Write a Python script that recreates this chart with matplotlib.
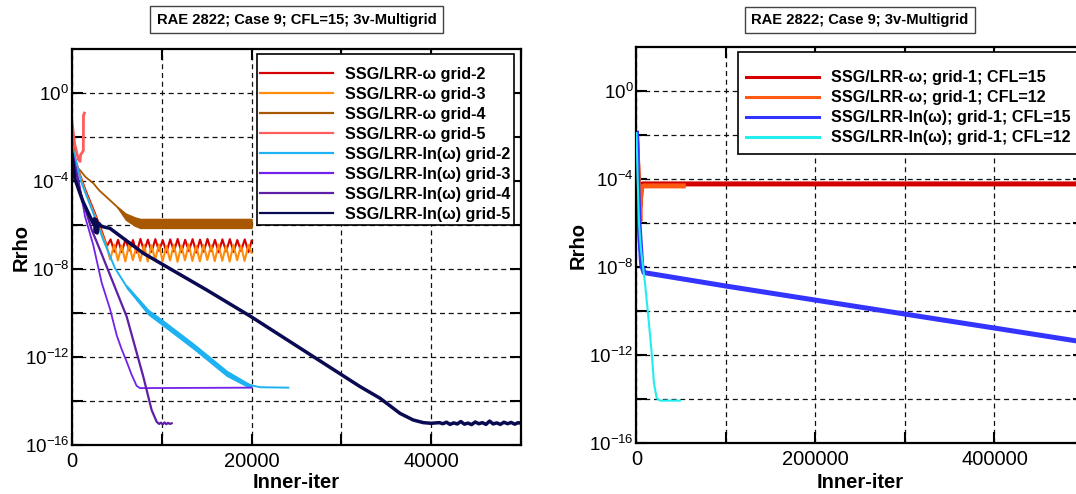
import numpy as np
import matplotlib.pyplot as plt
from matplotlib.lines import Line2D
from matplotlib.ticker import FixedLocator, NullFormatter, FuncFormatter

plt.rcParams['font.family'] = ['Liberation Sans', 'DejaVu Sans']
plt.rcParams['mathtext.default'] = 'regular'

# ---- left panel: grid study, CFL=15 (iteration, log10 Rrho) ----
w2_it = [0, 300, 800, 1500, 2500, 3300, 3900,
         4300, 4710, 5130, 5540, 5960, 6370, 6790, 7200, 7620, 8030,
         8450, 8860, 9280, 9690, 10110, 10520, 10940, 11350, 11770, 12180,
         12600, 13010, 13430, 13840, 14260, 14670, 15090, 15500, 15920, 16330,
         16750, 17160, 17580, 17990, 18410, 18820, 19240, 19650, 20000]
w2_lg = [-1.6, -2.9, -3.6, -4.4, -5.4, -6.25, -6.95,
         -6.64, -7.20, -6.66, -7.22, -6.63, -7.15, -6.67, -7.24, -6.62, -7.18,
         -6.65, -7.21, -6.63, -7.16, -6.68, -7.23, -6.64, -7.19, -6.62, -7.22,
         -6.66, -7.17, -6.63, -7.24, -6.65, -7.20, -6.62, -7.18, -6.66, -7.23,
         -6.64, -7.19, -6.63, -7.21, -6.67, -7.17, -6.64, -7.22, -6.70]

w3_it = [0, 500, 1500, 2500, 3300, 3900, 4250,
         4700, 5110, 5530, 5940, 6360, 6770, 7190, 7600, 8020, 8430,
         8850, 9260, 9680, 10090, 10510, 10920, 11340, 11750, 12170, 12580,
         13000, 13410, 13830, 14240, 14660, 15070, 15490, 15900, 16320, 16730,
         17150, 17560, 17980, 18390, 18810, 19220, 19640, 20000]
w3_lg = [-2.2, -3.3, -4.5, -5.5, -6.35, -7.0, -7.55,
         -6.88, -7.60, -6.92, -7.64, -6.86, -7.58, -6.95, -7.62, -6.89, -7.65,
         -6.91, -7.57, -6.87, -7.63, -6.94, -7.60, -6.88, -7.66, -6.92, -7.59,
         -6.86, -7.62, -6.93, -7.64, -6.89, -7.58, -6.91, -7.63, -6.87, -7.61,
         -6.94, -7.65, -6.88, -7.59, -6.92, -7.62, -6.90, -7.25]

w4_it = [0, 400, 900, 1500, 2400, 3000, 4200, 5000, 5600]
w4_lg = [-2.6, -3.3, -3.5, -3.8, -4.1, -4.4, -4.85, -5.15, -5.38]
w4_band_it = [5000, 6000, 7000, 7600, 20000]
w4_band_hi = [-5.15, -5.47, -5.64, -5.71, -5.71]
w4_band_lo = [-5.15, -5.75, -6.02, -6.12, -6.12]

w5_it = [0, 300, 700, 900, 950, 1200, 1260, 1280, 1330, 1380]
w5_lg = [-1.3, -2.3, -3.0, -3.1, -2.8, -2.65, -2.6, -1.0, -0.95, -0.9]

ln2_it = [0, 150, 1000, 2370, 3490, 4790, 6090, 8500, 10000, 13600,
          17230, 19450, 20940, 24090]
ln2_lg = [-2.4, -2.6, -4.0, -5.45, -6.67, -7.95, -8.79, -9.95, -10.4, -11.52,
          -12.73, -13.23, -13.36, -13.38]
ln2_band_it = [6090, 8500, 10000, 13600, 17230, 19450, 20000]
ln2_band_hi = [-8.74, -9.85, -10.29, -11.41, -12.62, -13.15, -13.27]
ln2_band_lo = [-8.84, -10.05, -10.51, -11.63, -12.84, -13.31, -13.33]

ln3_it = [0, 700, 1450, 2370, 3300, 4230, 4980, 5500, 6090, 6650, 7200, 7570, 20010]
ln3_lg = [-2.6, -3.9, -5.6, -6.9, -8.6, -9.8, -11.0, -11.6, -12.2, -12.8, -13.3, -13.4, -13.38]

ln4_it = [0, 1000, 2190, 3120, 6090, 7940, 8870, 9430, 9700, 9900, 10100,
          10300, 10500, 10700, 10900, 11100]
ln4_lg = [-2.7, -4.6, -6.2, -7.12, -10.15, -12.88, -14.4, -14.93, -15.03, -14.97,
          -15.05, -14.96, -15.04, -14.98, -15.03, -15.0]

ln5_it = [0, 330, 1200, 2000, 2370, 2500, 2600, 2700, 2800, 2950, 3300, 4230,
          7940, 15000, 19930, 32070, 34300, 36530, 38000, 39120, 40000,
          40900, 41300, 41700, 42100, 42500, 42900, 43300, 43700, 44100, 44500,
          44900, 45300, 45700, 46100, 46500, 46900, 47300, 47700, 48100, 48500,
          48900, 49300, 49700, 50000]
ln5_lg = [-2.8, -3.9, -4.9, -5.6, -5.92, -5.7, -6.3, -5.75, -6.35, -5.9, -6.05, -6.14,
          -7.27, -8.94, -10.15, -13.33, -13.86, -14.55, -14.85, -14.97, -15.0,
          -14.97, -15.02, -14.95, -15.05, -14.98, -15.03, -14.92, -15.04, -14.99, -15.06,
          -14.94, -15.02, -14.97, -15.05, -14.90, -15.03, -14.98, -15.05, -14.95, -15.02,
          -14.96, -15.04, -14.97, -15.0]

left_labels = ['SSG/LRR-ω grid-2', 'SSG/LRR-ω grid-3', 'SSG/LRR-ω grid-4',
               'SSG/LRR-ω grid-5', 'SSG/LRR-ln(ω) grid-2', 'SSG/LRR-ln(ω) grid-3',
               'SSG/LRR-ln(ω) grid-4', 'SSG/LRR-ln(ω) grid-5']
left_colors = ['#d60000', '#ff8c0a', '#a85800', '#ff5c5c',
               '#1eb2f2', '#7222ea', '#5e1ea6', '#0a0a52']

# ---- right panel: grid-1, CFL 15 vs 12 ----
r15w_it = [0, 1500, 3000, 4000, 5000, 6000, 7000, 500000]
r15w_lg = [-2.0, -3.5, -4.8, -5.2, -4.6, -4.25, -4.21, -4.21]
r12w_it = [0, 1500, 3000, 3800, 4500, 5500, 8000, 52300]
r12w_lg = [-2.0, -3.5, -5.0, -5.9, -4.8, -4.35, -4.3, -4.3]
r15l_it = [0, 1300, 2800, 5800, 8380, 99600, 199700, 401300, 500000]
r15l_lg = [-1.9, -4.03, -6.0, -7.9, -8.24, -8.85, -9.49, -10.77, -11.4]
r12l_it = [0, 1300, 2800, 5000, 9500, 13200, 17000, 19500, 22600, 26300, 48600]
r12l_lg = [-1.9, -4.03, -6.0, -7.2, -8.73, -10.24, -11.9, -13.27, -13.95, -14.06, -14.06]

right_labels = ['SSG/LRR-ω; grid-1; CFL=15', 'SSG/LRR-ω; grid-1; CFL=12',
                'SSG/LRR-ln(ω); grid-1; CFL=15', 'SSG/LRR-ln(ω); grid-1; CFL=12']
right_colors = ['#d40000', '#ff5a14', '#3434ff', '#22eeee']

y_major = [1e0, 1e-4, 1e-8, 1e-12, 1e-16]
y_minor = [1e-2, 1e-6, 1e-10, 1e-14]


def p(v):
    return 10.0 ** np.asarray(v)


def style_axes(ax, xmax, x_major, x_minor):
    ax.set_yscale('log')
    ax.set_ylim(1e-16, 1e2)
    ax.set_xlim(0, xmax)
    ax.yaxis.set_major_locator(FixedLocator(y_major))
    ax.yaxis.set_minor_locator(FixedLocator(y_minor))
    ax.yaxis.set_major_formatter(FuncFormatter(
        lambda v, pos: '$10^{%d}$' % int(round(np.log10(v)))))
    ax.yaxis.set_minor_formatter(NullFormatter())
    ax.xaxis.set_major_locator(FixedLocator(x_major))
    ax.xaxis.set_minor_locator(FixedLocator(x_minor))
    ax.xaxis.set_major_formatter(FuncFormatter(lambda v, pos: '%d' % v))
    ax.tick_params(which='both', direction='in', top=True, right=True,
                   length=8, width=1.5, color='black')
    ax.tick_params(axis='y', which='major', labelsize=13.5, pad=2)
    ax.tick_params(axis='x', which='major', labelsize=14.5, pad=5)
    ax.grid(True, which='both', color='#111111', lw=0.9,
            linestyle=(0, (4, 3)))
    for s in ax.spines.values():
        s.set_linewidth(1.6)
    ax.set_axisbelow(True)
    ax.set_xlabel('Inner-iter', fontsize=14.5, fontweight='bold')
    ax.set_ylabel('Rrho', fontsize=14.5, fontweight='bold')


def add_key(ax, handles, labels, anchor, pad, title_size):
    leg = ax.legend(handles, labels, loc='upper left', bbox_to_anchor=anchor,
                    mode='expand', borderaxespad=0,
                    prop={'weight': 'bold', 'size': 11.6},
                    handlelength=4.5, handletextpad=0.75, labelspacing=0.31,
                    borderpad=pad, title=' ', title_fontsize=title_size,
                    frameon=True, fancybox=False, framealpha=1,
                    edgecolor='black')
    leg.get_frame().set_linewidth(1.2)
    return leg


fig = plt.figure(figsize=(10.76, 4.94), dpi=100)
axL = fig.add_axes([0.06691, 0.09858, 0.41729, 0.80162])
axR = fig.add_axes([0.59154, 0.10263, 0.41589, 0.80162])

# left panel curves
axL.plot(w2_it, p(w2_lg), color=left_colors[0], lw=1.5)
axL.plot(w3_it, p(w3_lg), color=left_colors[1], lw=1.5)
axL.plot(w4_it, p(w4_lg), color=left_colors[2], lw=1.3)
axL.fill_between(w4_band_it, p(w4_band_lo), p(w4_band_hi),
                 color=left_colors[2], lw=1.0, edgecolor=left_colors[2])
axL.plot(w5_it, p(w5_lg), color=left_colors[3], lw=2.0)
axL.plot(ln2_it, p(ln2_lg), color=left_colors[4], lw=1.4)
axL.fill_between(ln2_band_it, p(ln2_band_lo), p(ln2_band_hi),
                 color=left_colors[4], lw=1.0, edgecolor=left_colors[4])
axL.plot(ln3_it, p(ln3_lg), color=left_colors[5], lw=1.3)
axL.plot(ln4_it, p(ln4_lg), color=left_colors[6], lw=1.6)
axL.plot(ln5_it, p(ln5_lg), color=left_colors[7], lw=2.5)

style_axes(axL, 50000, [0, 20000, 40000], [10000, 30000, 50000])

# right panel curves
axR.plot(r15w_it, p(r15w_lg), color=right_colors[0], lw=3.6)
axR.plot(r12w_it, p(r12w_lg), color=right_colors[1], lw=3.6)
axR.plot(r15l_it, p(r15l_lg), color=right_colors[2], lw=3.6)
axR.plot(r12l_it, p(r12l_lg), color=right_colors[3], lw=1.5, zorder=3)

style_axes(axR, 500000, [0, 200000, 400000], [100000, 300000, 500000])

axL.yaxis.set_label_coords(-0.092, 0.5)
axR.yaxis.set_label_coords(-0.110, 0.5)
axL.xaxis.set_label_coords(0.5, -0.070)
axR.xaxis.set_label_coords(0.5, -0.074)

# legends
hL = [Line2D([], [], color=c, lw=1.6) for c in left_colors]
add_key(axL, hL, left_labels, (0.412, 0.556, 0.572, 0.431), 0.2, 2)
hR = [Line2D([], [], color=c, lw=2.2) for c in right_colors]
add_key(axR, hR, right_labels, (0.226, 0.50, 0.78, 0.487), 0.55, 2)

# panel titles in boxes
box = dict(boxstyle='square,pad=0.42', fc='white', ec='#444444', lw=1.0)
fig.text(0.2756, 0.9605, 'RAE 2822; Case 9; CFL=15; 3v-Multigrid',
         ha='center', va='center', fontsize=10.6, fontweight='bold', bbox=box)
fig.text(0.7993, 0.9595, 'RAE 2822; Case 9; 3v-Multigrid',
         ha='center', va='center', fontsize=10.6, fontweight='bold', bbox=box)

fig.savefig('out.png', dpi=100)
